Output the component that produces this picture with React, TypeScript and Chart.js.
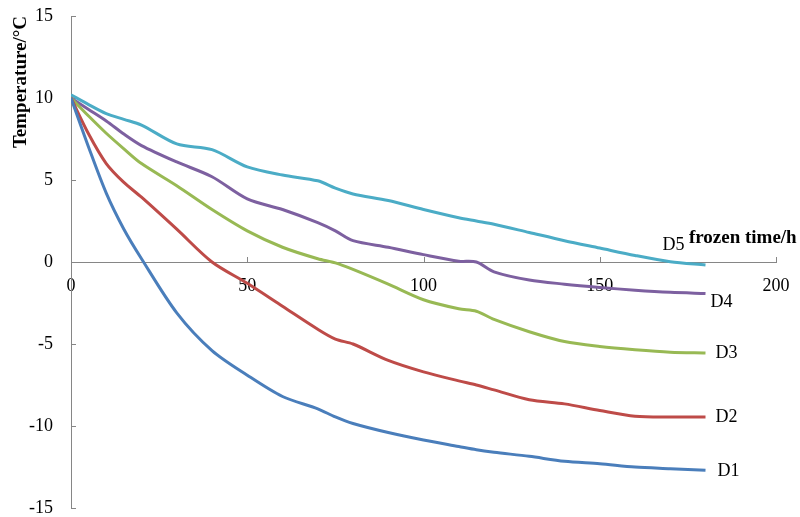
import { useEffect, useRef } from "react";
import { Chart, registerables } from "chart.js";

Chart.register(...registerables);

// Freezing time (h) at which each temperature reading was taken
const hours = [0, 5, 10, 15, 20, 30, 40, 50, 60, 70, 75, 80, 90, 100, 110, 115, 120, 130, 140, 150, 160, 170, 180];

// Temperature (°C) of each specimen
const d1 = [10, 7.0, 4.2, 2.0, 0.2, -3.1, -5.4, -6.9, -8.2, -8.95, -9.45, -9.85, -10.4, -10.85, -11.25, -11.45, -11.6, -11.85, -12.15, -12.3, -12.5, -12.6, -12.7];
const d2 = [10, 7.8, 6.0, 4.85, 3.95, 2.0, 0.0, -1.3, -2.7, -4.1, -4.7, -5.0, -6.0, -6.7, -7.25, -7.5, -7.8, -8.4, -8.65, -9.05, -9.4, -9.45, -9.45];
const d3 = [10, 8.9, 7.85, 6.9, 6.0, 4.65, 3.2, 1.9, 0.9, 0.2, -0.05, -0.45, -1.35, -2.3, -2.85, -3.0, -3.5, -4.25, -4.85, -5.15, -5.35, -5.5, -5.55];
const d4 = [10, 9.3, 8.6, 7.8, 7.1, 6.1, 5.2, 3.85, 3.2, 2.4, 1.9, 1.3, 0.9, 0.45, 0.05, 0.0, -0.6, -1.1, -1.35, -1.55, -1.72, -1.85, -1.92];
const d5 = [10.2, 9.6, 9.05, 8.7, 8.35, 7.2, 6.85, 5.8, 5.3, 4.95, 4.5, 4.15, 3.75, 3.2, 2.7, 2.5, 2.3, 1.8, 1.3, 0.85, 0.4, 0.02, -0.18];

const seriesNames = ["D1", "D2", "D3", "D4", "D5"];
const seriesValues = [d1, d2, d3, d4, d5];
const seriesColors = ["#4a7ebb", "#be4b48", "#98b954", "#7d60a0", "#4bacc6"];

const xTitle = "frozen time/h";
const yTitle = "Temperature/°C";

// Where each series name sits relative to the last point of its line
const endLabelOffsets = [
  { dx: 12, dy: 6 },
  { dx: 10, dy: 5 },
  { dx: 10, dy: 5 },
  { dx: 5, dy: 13.5 },
  { dx: -43, dy: -14.5 },
];

const AXIS_COLOR = "#868686";
const FONT_FAMILY = "'Liberation Serif', 'Times New Roman', serif";

const annotations = {
  id: "annotations",
  beforeDatasetsDraw(chart: any) {
    const { ctx } = chart;
    const xs = chart.scales.x;
    const ys = chart.scales.y;
    const x0 = xs.getPixelForValue(0);
    const y0 = ys.getPixelForValue(0);
    ctx.save();
    ctx.strokeStyle = AXIS_COLOR;
    ctx.lineWidth = 1;
    ctx.beginPath();
    // inward tick marks
    ys.ticks.forEach((t: any) => {
      const py = Math.round(ys.getPixelForValue(t.value)) + 0.5;
      ctx.moveTo(Math.round(x0), py);
      ctx.lineTo(Math.round(x0) + 5, py);
    });
    xs.ticks.forEach((t: any) => {
      if (t.value === 0) return;
      const px = Math.round(xs.getPixelForValue(t.value)) + 0.5;
      ctx.moveTo(px, Math.round(y0));
      ctx.lineTo(px, Math.round(y0) - 5);
    });
    ctx.stroke();
    ctx.restore();
  },
  afterDraw(chart: any) {
    const { ctx } = chart;
    const xs = chart.scales.x;
    const ys = chart.scales.y;
    ctx.save();
    ctx.fillStyle = "#000";
    ctx.textBaseline = "alphabetic";
    ctx.textAlign = "left";

    // series names at the line ends
    ctx.font = `18px ${FONT_FAMILY}`;
    seriesNames.forEach((name, i) => {
      const vals = seriesValues[i];
      const last = vals.length - 1;
      const px = xs.getPixelForValue(hours[last]);
      const py = ys.getPixelForValue(vals[last]);
      const off = endLabelOffsets[i];
      ctx.fillText(name, px + off.dx, py + off.dy);
    });

    // x axis title above the axis, near its right end
    ctx.font = `bold 19px ${FONT_FAMILY}`;
    ctx.fillText(xTitle, xs.getPixelForValue(175) + 1, ys.getPixelForValue(0) - 19);

    // rotated y axis title
    ctx.translate(21, 82);
    ctx.rotate(-Math.PI / 2);
    ctx.textAlign = "center";
    ctx.textBaseline = "middle";
    ctx.fillText(yTitle, 0, 0);
    ctx.restore();
  },
};

function noScalePadding(scale: any) {
  scale.paddingTop = 0;
  scale.paddingBottom = 0;
  scale.paddingLeft = 0;
  scale.paddingRight = 0;
}

export default function App() {
  const canvasRef = useRef<HTMLCanvasElement | null>(null);

  useEffect(() => {
    const canvas = canvasRef.current;
    if (!canvas) return;
    const chart = new Chart(canvas, {
      type: "line",
      data: {
        datasets: seriesNames.map((name, i) => ({
          label: name,
          data: hours.map((h, j) => ({ x: h, y: seriesValues[i][j] })),
          borderColor: seriesColors[i],
          backgroundColor: seriesColors[i],
          borderWidth: 3,
          pointRadius: 0,
          tension: 0.3,
          fill: false,
        })),
      },
      options: {
        responsive: false,
        animation: false,
        events: [],
        layout: { padding: { left: 0, right: 24, top: 16, bottom: 9 } },
        plugins: {
          legend: { display: false },
          title: { display: false },
          tooltip: { enabled: false },
        },
        scales: {
          x: {
            type: "linear",
            position: { y: 0 },
            min: 0,
            max: 200,
            grid: { display: false, drawTicks: false },
            border: { display: true, color: AXIS_COLOR, width: 1 },
            ticks: {
              stepSize: 50,
              padding: 15,
              color: "#000",
              maxRotation: 0,
              font: { family: FONT_FAMILY, size: 18, lineHeight: 1 },
            },
            afterFit(scale: any) {
              noScalePadding(scale);
              scale.height = 0;
            },
          },
          y: {
            type: "linear",
            position: "left",
            min: -15,
            max: 15,
            grid: { display: false, drawTicks: false },
            border: { display: true, color: AXIS_COLOR, width: 1 },
            ticks: {
              stepSize: 5,
              padding: 18,
              color: "#000",
              font: { family: FONT_FAMILY, size: 18, lineHeight: 1 },
            },
            afterFit(scale: any) {
              noScalePadding(scale);
              scale.width = 71;
            },
          },
        },
      },
      plugins: [annotations],
    });
    return () => chart.destroy();
  }, []);

  return (
    <div style={{ position: "absolute", left: 0, top: 0, width: 800, height: 517, background: "#fff" }}>
      <canvas ref={canvasRef} width={800} height={517} style={{ width: 800, height: 517, display: "block" }} />
    </div>
  );
}
